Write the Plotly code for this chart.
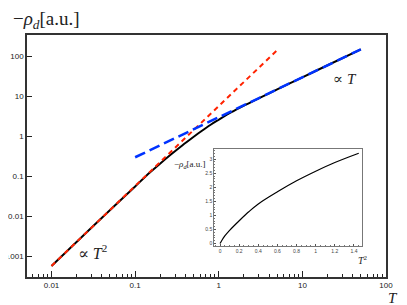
import plotly.graph_objects as go

# Main curve
T_black = [0.01, 0.03, 0.1, 0.15, 0.2, 0.27, 0.35, 0.45, 0.6, 0.8, 1.0, 1.4, 2.0, 3.0, 5.0, 10.0, 20.0, 50.0]
rho_black = [5.75e-4, 5.17e-3, 0.056, 0.124, 0.21, 0.355, 0.55, 0.82, 1.28, 1.95, 2.6, 3.95, 5.85, 8.88,
             14.9, 29.9, 59.9, 150.0]

# Asymptotes
T_red = [0.01, 5.0]
rho_red = [5.75e-4, 143.0]
T_blue = [0.1, 50.0]
rho_blue = [0.3, 150.0]

# Inset: -rho_d versus T^2
T2_inset = [0.0, 0.02, 0.05, 0.1, 0.2, 0.3, 0.4, 0.6, 0.8, 1.0, 1.2, 1.45]
rho_inset = [0.0, 0.12, 0.27, 0.47, 0.81, 1.13, 1.41, 1.84, 2.23, 2.57, 2.88, 3.21]

x_ticks = [0.01, 0.1, 1, 10, 100]
x_ticktext = ["0.01", "0.1", "1", "10", "100"]
y_ticks = [0.001, 0.01, 0.1, 1, 10, 100]
y_ticktext = ["0.001", "0.01", "0.1", "1", "10", "100"]
x_minor = [m * 10.0 ** e for e in range(-3, 2) for m in range(2, 10)]

fig = go.Figure()
fig.add_trace(go.Scatter(x=T_black, y=rho_black, mode="lines", line=dict(color="black", width=2, shape="spline", smoothing=0.8),
                         xaxis="x", yaxis="y", showlegend=False))
fig.add_trace(go.Scatter(x=T_red, y=rho_red, mode="lines", line=dict(color="#ff2200", width=2, dash="5px,4px"),
                         xaxis="x", yaxis="y", showlegend=False))
fig.add_trace(go.Scatter(x=T_blue, y=rho_blue, mode="lines", line=dict(color="#0033ff", width=2.5, dash="11px,5px"),
                         xaxis="x", yaxis="y", showlegend=False))
# minor ticks carrier (invisible)
fig.add_trace(go.Scatter(x=[0.01], y=[1], mode="markers", marker=dict(opacity=0), xaxis="x3", yaxis="y",
                         showlegend=False, hoverinfo="skip"))
fig.add_trace(go.Scatter(x=T2_inset, y=rho_inset, mode="lines", line=dict(color="black", width=1.2, shape="spline"),
                         xaxis="x2", yaxis="y2", showlegend=False))

tickfont = dict(family="Liberation Sans, Arial, sans-serif", size=8, color="#222")
inset_font = dict(family="Liberation Sans, Arial, sans-serif", size=5, color="#444")

# page body has an 8px margin: figure is 399x297 so that it fills the 407x305 window
fig.update_layout(
    width=399, height=297,
    margin=dict(l=19, r=21, t=27, b=28),
    paper_bgcolor="white", plot_bgcolor="white",
    xaxis=dict(type="log", range=[-2.293, 2.0], tickmode="array", tickvals=x_ticks, ticktext=x_ticktext,
               ticks="inside", ticklen=6, tickcolor="#222", tickfont=tickfont, showgrid=False, zeroline=False,
               showline=True, mirror=True, linecolor="#333", linewidth=1.5, domain=[0, 1], automargin=False),
    xaxis3=dict(type="log", range=[-2.293, 2.0], overlaying="x", tickmode="array", tickvals=x_minor,
                ticks="inside", ticklen=3, tickcolor="#222", showticklabels=False, showgrid=False,
                zeroline=False, showline=False, anchor="y", automargin=False),
    yaxis=dict(type="log", range=[-3.517, 2.534], tickmode="array", tickvals=y_ticks, ticktext=y_ticktext,
               ticks="inside", ticklen=5, tickcolor="#222", tickfont=tickfont, showgrid=False, zeroline=False,
               showline=True, mirror=True, linecolor="#333", linewidth=1.5, domain=[0, 1], automargin=False),
    xaxis2=dict(domain=[0.5214, 0.9345], anchor="y2", range=[-0.061, 1.489], dtick=0.2, tick0=0,
                ticks="inside", ticklen=2, tickcolor="#555", tickfont=inset_font, showgrid=False, zeroline=False,
                showline=True, mirror=True, linecolor="#777", linewidth=1, automargin=False,
                minor=dict(ticks="inside", ticklen=1, dtick=0.05, tickcolor="#777")),
    yaxis2=dict(domain=[0.1282, 0.5299], anchor="x2", range=[-0.085, 3.37], dtick=0.5, tick0=0,
                ticks="inside", ticklen=2, tickcolor="#555", tickfont=inset_font, showgrid=False, zeroline=False,
                showline=True, mirror=True, linecolor="#777", linewidth=1, automargin=False,
                minor=dict(ticks="inside", ticklen=1, dtick=0.1, tickcolor="#777")),
)

serif = "Liberation Serif, DejaVu Serif, serif"
fig.add_annotation(text="−<i>ρ</i><sub><i>d</i></sub>[a.u.]", xref="paper", yref="paper", x=-0.045, y=1.06,
                   xanchor="left", yanchor="middle", showarrow=False, font=dict(family=serif, size=19, color="#222"))
fig.add_annotation(text="<i>T</i>", xref="paper", yref="paper", x=1.02, y=-0.122, borderpad=0,
                   xanchor="center", yanchor="bottom", showarrow=False, font=dict(family=serif, size=15, color="#222"))
fig.add_annotation(text="∝ <i>T</i><sup>2</sup>", xref="paper", yref="paper", x=0.182, y=0.105,
                   xanchor="center", yanchor="middle", showarrow=False, font=dict(family=serif, size=16, color="#222"))
fig.add_annotation(text="∝ <i>T</i>", xref="paper", yref="paper", x=0.885, y=0.818,
                   xanchor="center", yanchor="middle", showarrow=False, font=dict(family=serif, size=15, color="#222"))
fig.add_annotation(text="−<i>ρ</i><sub><i>d</i></sub>[a.u.]", xref="paper", yref="paper", x=0.505, y=0.466,
                   xanchor="right", yanchor="middle", showarrow=False, font=dict(family=serif, size=9, color="#222"))
fig.add_annotation(text="<i>T</i><sup>2</sup>", xref="paper", yref="paper", x=0.935, y=0.072,
                   xanchor="center", yanchor="middle", showarrow=False, font=dict(family=serif, size=10, color="#222"))

fig.write_html("out.html")
